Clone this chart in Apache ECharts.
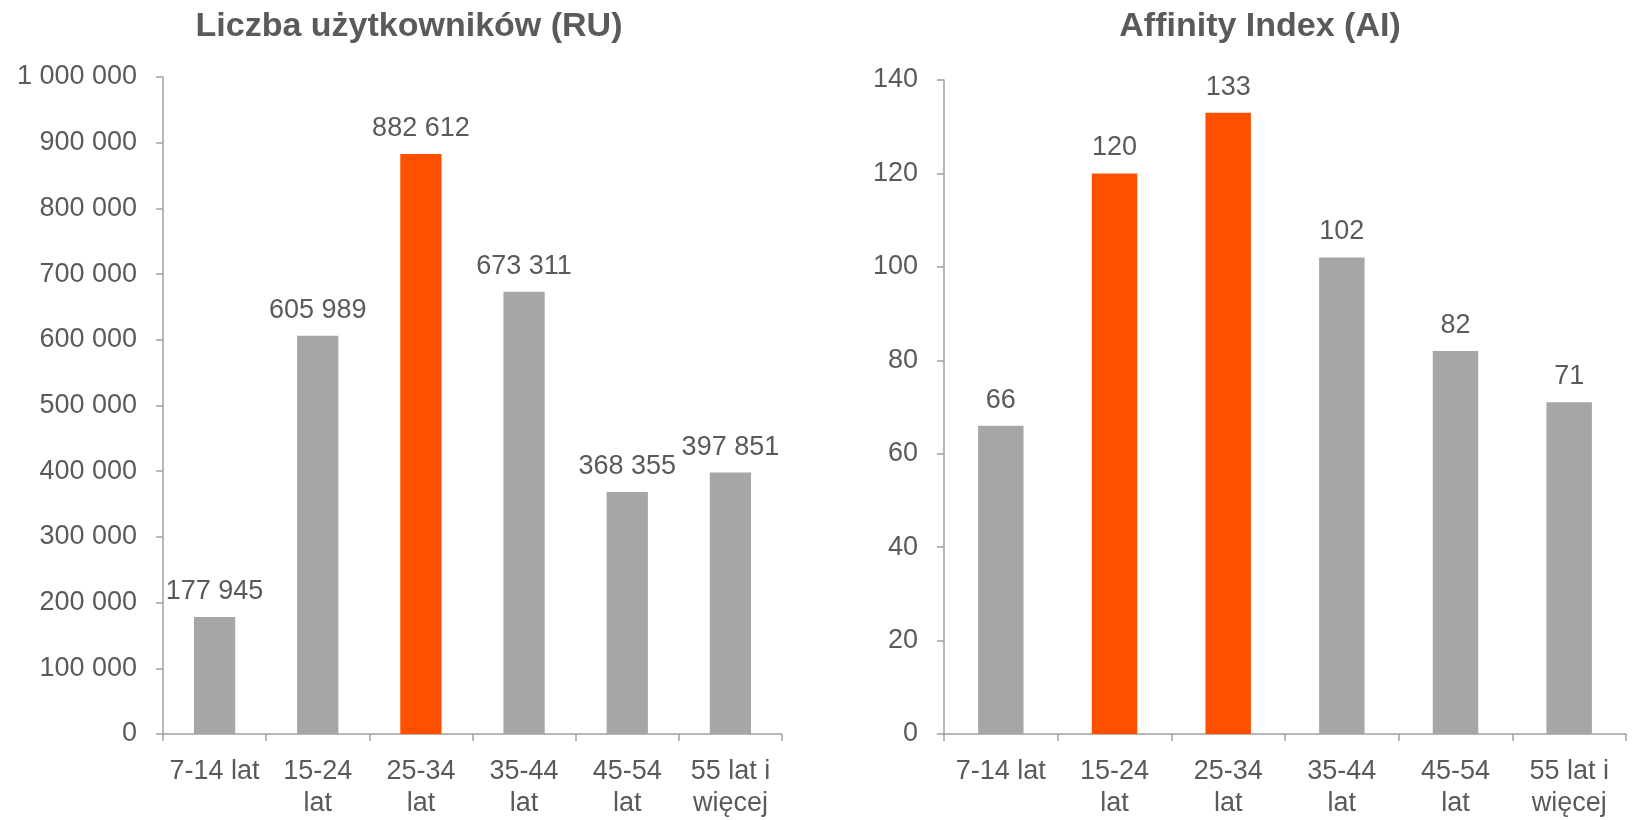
<!DOCTYPE html>
<html>
<head>
<meta charset="utf-8">
<script src="https://cdn.jsdelivr.net/npm/echarts@6/dist/echarts.min.js"></script>
<style>
  html, body { margin: 0; padding: 0; background: #ffffff; }
  #chart { width: 1637px; height: 820px; }
</style>
</head>
<body>
<div id="chart"></div>
<script>
// Age groups shared by both panels
const categories = ['7-14 lat', '15-24\nlat', '25-34\nlat', '35-44\nlat', '45-54\nlat', '55 lat i\nwięcej'];

// Panel 1: number of users (RU)
const usersTitle = 'Liczba użytkowników (RU)';
const usersValues = [177945, 605989, 882612, 673311, 368355, 397851];
const usersHighlight = [2];
const usersAxisMax = 1000000;
const usersAxisStep = 100000;

// Panel 2: Affinity Index (AI)
const affinityTitle = 'Affinity Index (AI)';
const affinityValues = [66, 120, 133, 102, 82, 71];
const affinityHighlight = [1, 2];
const affinityAxisMax = 140;
const affinityAxisStep = 20;

const GREY = '#a6a6a6';
const ORANGE = '#ff5000';
const TEXT = '#595a5c';
const AXIS = '#a0a0a0';
const FONT = '"Liberation Sans", Arial, sans-serif';

function spaced(v) {
  return String(Math.round(v)).replace(/\B(?=(\d{3})+(?!\d))/g, ' ');
}

function barData(values, highlight) {
  return values.map((v, i) => ({
    value: v,
    itemStyle: { color: highlight.includes(i) ? ORANGE : GREY }
  }));
}

function xAxis(gridIndex) {
  return {
    type: 'category',
    gridIndex,
    data: categories,
    axisLine: { lineStyle: { color: AXIS, width: 1.5 } },
    axisTick: { show: true, length: 7, lineStyle: { color: AXIS, width: 1.5 } },
    axisLabel: {
      interval: 0, margin: 22, color: TEXT, fontFamily: FONT,
      fontSize: 27, lineHeight: 32
    }
  };
}

function yAxis(gridIndex, max, step, fmt) {
  return {
    type: 'value',
    gridIndex, min: 0, max, interval: step,
    axisLine: { show: true, lineStyle: { color: AXIS, width: 1.5 } },
    axisTick: { show: true, length: 7, lineStyle: { color: AXIS, width: 1.5 } },
    splitLine: { show: false },
    axisLabel: { margin: 26, color: TEXT, fontFamily: FONT, fontSize: 27, formatter: fmt }
  };
}

function barSeries(idx, values, highlight, fmt) {
  return {
    type: 'bar',
    xAxisIndex: idx, yAxisIndex: idx,
    barWidth: '40%',
    data: barData(values, highlight),
    label: {
      show: true, position: 'top', distance: 12,
      color: TEXT, fontFamily: FONT, fontSize: 27,
      formatter: p => fmt(p.value)
    }
  };
}

const chart = echarts.init(document.getElementById('chart'), null, { renderer: 'canvas' });
chart.setOption({
  animation: false,
  backgroundColor: '#ffffff',
  title: [
    {
      text: usersTitle, left: 404, top: 5, textAlign: 'center',
      textStyle: { color: TEXT, fontFamily: FONT, fontWeight: 'bold', fontSize: 34 }
    },
    {
      text: affinityTitle, left: 1255, top: 5, textAlign: 'center',
      textStyle: { color: TEXT, fontFamily: FONT, fontWeight: 'bold', fontSize: 34 }
    }
  ],
  grid: [
    { left: 163, right: 855, top: 77, bottom: 85 },
    { left: 944, right: 11, top: 80, bottom: 84 }
  ],
  xAxis: [xAxis(0), xAxis(1)],
  yAxis: [
    yAxis(0, usersAxisMax, usersAxisStep, spaced),
    yAxis(1, affinityAxisMax, affinityAxisStep, v => String(v))
  ],
  series: [
    barSeries(0, usersValues, usersHighlight, spaced),
    barSeries(1, affinityValues, affinityHighlight, v => String(v))
  ]
});
</script>
</body>
</html>
